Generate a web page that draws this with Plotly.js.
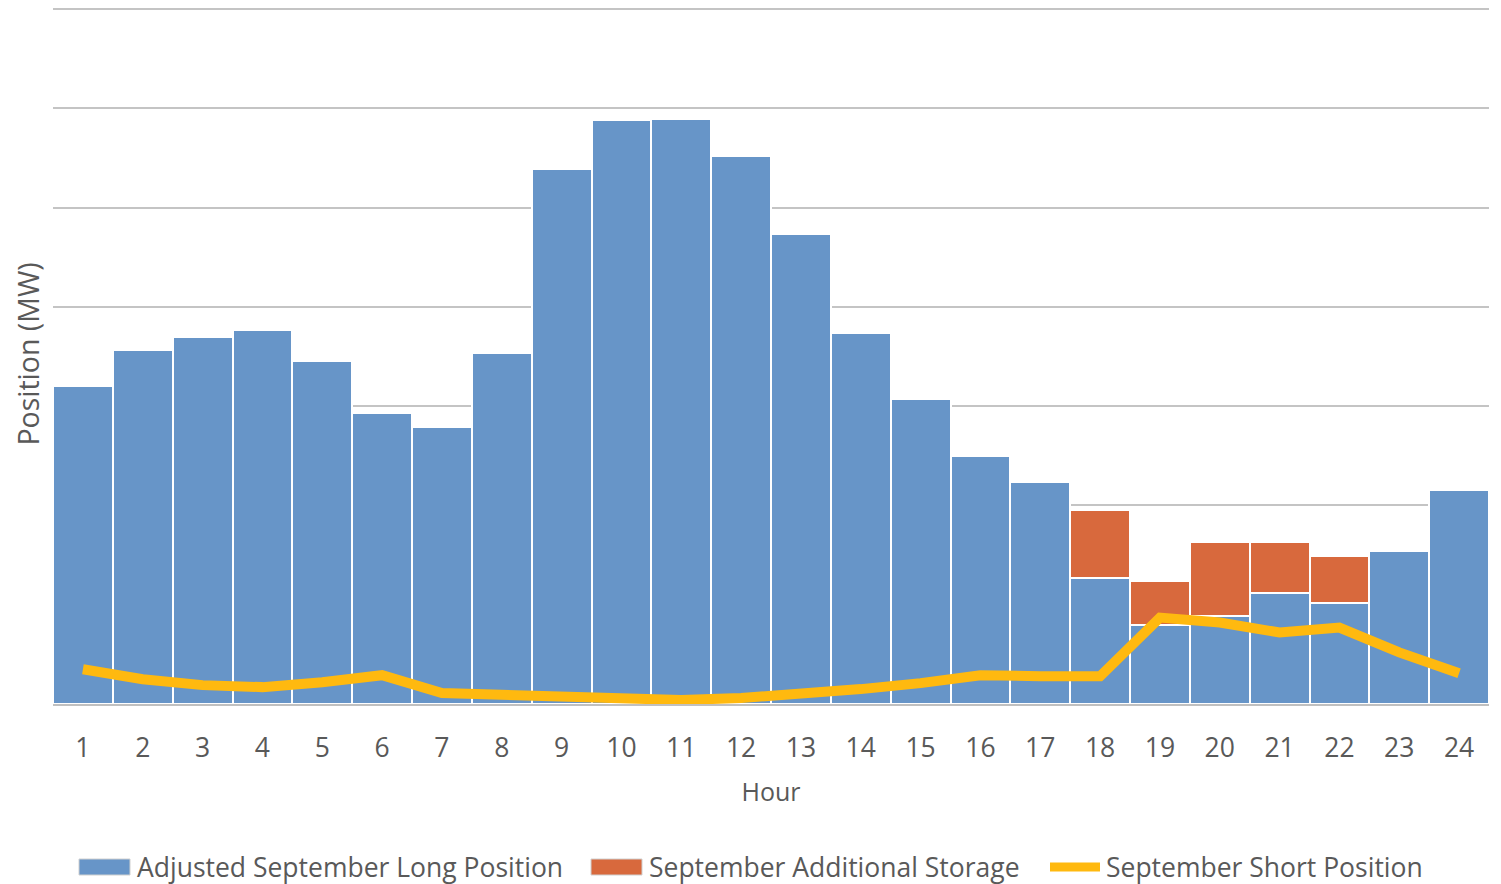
<!DOCTYPE html>
<html>
<head>
<meta charset="utf-8">
<script src="https://cdn.plot.ly/plotly-3.0.1.min.js"></script>
<style>html,body{margin:0;padding:0;background:#fff;}#chart{width:1501px;height:884px;}</style>
</head>
<body>
<div id="chart"></div>
<script>
const hours = [1,2,3,4,5,6,7,8,9,10,11,12,13,14,15,16,17,18,19,20,21,22,23,24];
const longPosition = [320,357,370,377,345,293,279,354,539,588,589,552,473,374,307,250,224,127,80,89,112,102,154,216];
const additionalStorage = [0,0,0,0,0,0,0,0,0,0,0,0,0,0,0,0,0,68,44,74,51,47,0,0];
const shortPosition = [35,25,19,17,22,29,11,9,7,4,4,6,10,15,21,29,28,28,87,82,72,77,52,31];
const seriesNames = ["Adjusted September Long Position","September Additional Storage","September Short Position"];
const colors = ["#6795C8","#D8693D","#FFB90F"];

const W = 1501, H = 884, L = 53, R = 1489, T = 4, B = 704;
const px = x => (x - L) / (R - L);
const py = y => (B - y) / (B - T);
const textColor = "#595959";
const font = "Open Sans, Noto Sans, sans-serif";

const traces = [
  {type:"bar", x:hours, y:longPosition, name:seriesNames[0], marker:{color:colors[0], line:{color:"#ffffff", width:2}}, showlegend:false},
  {type:"bar", x:hours, y:additionalStorage, name:seriesNames[1], marker:{color:colors[1], line:{color:"#ffffff", width:2}}, showlegend:false},
  {type:"scatter", mode:"lines", x:hours, y:shortPosition, name:seriesNames[2], line:{color:colors[2], width:10}, showlegend:false}
];

const legendY = py(867);
const shapes = [
  {type:"rect", xref:"paper", yref:"paper", x0:px(79), x1:px(130), y0:py(875), y1:py(859), fillcolor:colors[0], line:{color:"#d0d0d0", width:1}},
  {type:"rect", xref:"paper", yref:"paper", x0:px(591), x1:px(642), y0:py(875), y1:py(859), fillcolor:colors[1], line:{color:"#d0d0d0", width:1}},
  {type:"line", xref:"paper", yref:"paper", x0:px(1050), x1:px(1100), y0:legendY, y1:legendY, line:{color:colors[2], width:9}, layer:"above"}
];
const annotations = [
  {xref:"paper", yref:"paper", x:px(135), y:legendY, xanchor:"left", yanchor:"middle", showarrow:false, text:seriesNames[0], font:{family:font, size:26.5, color:textColor}},
  {xref:"paper", yref:"paper", x:px(647), y:legendY, xanchor:"left", yanchor:"middle", showarrow:false, text:seriesNames[1], font:{family:font, size:26.5, color:textColor}},
  {xref:"paper", yref:"paper", x:px(1104), y:legendY, xanchor:"left", yanchor:"middle", showarrow:false, text:seriesNames[2], font:{family:font, size:26.5, color:textColor}}
];

const layout = {
  width:W, height:H,
  margin:{l:L, r:W-R, t:T, b:H-B, pad:0},
  paper_bgcolor:"#ffffff", plot_bgcolor:"#ffffff",
  barmode:"stack", bargap:0,
  font:{family:font, color:textColor},
  showlegend:false,
  xaxis:{
    range:[0.5,24.5], tickvals:hours, ticktext:hours.map(String), ticks:"", showgrid:false,
    showline:true, linecolor:"#c0c0c0", linewidth:2, zeroline:false, automargin:false,
    tickfont:{family:font, size:26.5, color:textColor}, ticklabelstandoff:19,
    title:{text:"Hour", font:{family:font, size:25, color:textColor}, standoff:20}
  },
  yaxis:{
    range:[0,705], tickvals:[100,200,300,400,500,600,700], showticklabels:false, ticks:"", gridcolor:"#c4c4c4", gridwidth:2,
    zeroline:false, automargin:false, showline:false,
    title:{text:"Position (MW)", font:{family:font, size:28.5, color:textColor}, standoff:4}
  },
  shapes:shapes, annotations:annotations
};
Plotly.newPlot("chart", traces, layout, {displayModeBar:false, staticPlot:true});
</script>
</body>
</html>
